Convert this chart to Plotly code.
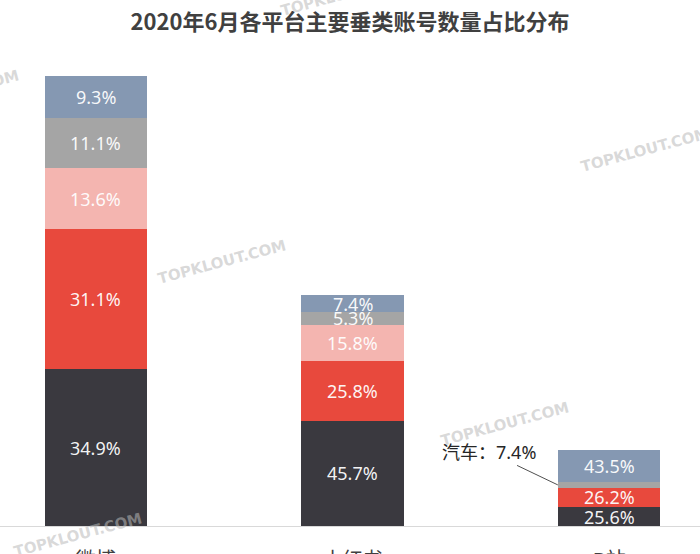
import plotly.graph_objects as go

# ── Data ──────────────────────────────────────────────────────────────────────
platforms = ["微博", "小红书", "B站"]
# relative total number of accounts (bar heights, 微博 = 100)
totals = [100, 51.3, 16.9]

# share of each vertical per platform (%), stacked bottom -> top
segments = ["垂类一", "垂类二", "垂类三", "汽车", "垂类五"]
shares = {
    "垂类一": [34.9, 45.7, 25.6],
    "垂类二": [31.1, 25.8, 26.2],
    "垂类三": [13.6, 15.8, 0],
    "汽车": [11.1, 5.3, 7.4],
    "垂类五": [9.3, 7.4, 43.5],
}
colors = ["#3a393f", "#e8493d", "#f4b5b0", "#a5a5a5", "#8598b2"]

title = "2020年6月各平台主要垂类账号数量占比分布"
callout_platform = "B站"
callout_segment = "汽车"
watermark = "TOPKLOUT.COM"

FONT = "Noto Sans, Noto Sans CJK SC, sans-serif"
BAR_W = 0.4
W, H = 700, 554
T, B = 60, 28  # plot area spans y = 60 .. 526

fig = go.Figure()

# heights: bar total split by the shares (normalised per bar)
sums = [sum(shares[s][i] for s in segments) for i in range(len(platforms))]
heights = {
    s: [totals[i] * shares[s][i] / sums[i] for i in range(len(platforms))]
    for s in segments
}

for seg, col in zip(segments, colors):
    fig.add_trace(go.Bar(
        x=platforms, y=heights[seg], name=seg,
        marker=dict(color=col, line=dict(width=0)),
        width=BAR_W, showlegend=False, hoverinfo="skip",
    ))

# ── Watermarks (behind labels) ────────────────────────────────────────────────
annotations = []
plot_h = H - T - B
for wx, wy in [(222, 262), (645, 150), (505, 424), (78, 535), (-45, 92), (345, -6)]:
    annotations.append(dict(
        x=wx / W, y=(H - B - wy) / plot_h, xref="paper", yref="paper",
        xanchor="center", yanchor="middle",
        text=f"<b>{watermark}</b>", showarrow=False, textangle=-15,
        font=dict(family="DejaVu Sans, sans-serif", size=15,
                  color="rgba(185,185,185,0.55)"),
    ))

# ── Segment labels ────────────────────────────────────────────────────────────
for i, p in enumerate(platforms):
    base = 0.0
    for seg in segments:
        h = heights[seg][i]
        mid = base + h / 2
        if h > 0 and not (p == callout_platform and seg == callout_segment):
            annotations.append(dict(
                x=p, y=mid, xref="x", yref="y",
                text=f"{shares[seg][i]:.1f}%", showarrow=False,
                font=dict(family=FONT, size=18, color="rgba(255,255,255,0.95)"),
            ))
        if p == callout_platform and seg == callout_segment:
            annotations.append(dict(
                x=i - BAR_W / 2, y=mid, xref="x", yref="y",
                text=f"{seg}：{shares[seg][i]:.1f}%",
                showarrow=True, arrowhead=0, arrowwidth=1, arrowcolor="#505050",
                ax=-69, ay=-33,
                font=dict(family=FONT, size=18, color="#262626"),
            ))
        base += h

# ── Layout ────────────────────────────────────────────────────────────────────
fig.update_layout(
    width=W, height=H,
    barmode="stack",
    plot_bgcolor="white", paper_bgcolor="white",
    margin=dict(l=0, r=0, t=T, b=B),
    title=dict(
        text=f"<b>{title}</b>", x=0.5, xanchor="center",
        y=1 - 22 / H, yanchor="middle",
        font=dict(family="Noto Sans CJK SC, sans-serif", size=22, color="#404040"),
    ),
    xaxis=dict(
        range=[-0.3735, 2.354], showgrid=False, zeroline=False,
        showline=True, linecolor="#d9d9d9", linewidth=1, ticks="",
        tickfont=dict(family=FONT, size=20, color="#404040"),
        ticklabelstandoff=16, automargin=False,
    ),
    yaxis=dict(range=[0, 103.6], visible=False, showgrid=False, zeroline=False),
    annotations=annotations,
)

fig.write_html(
    "out.html",
    config={"displayModeBar": False},
    post_script="document.body.style.margin='0';document.body.style.overflow='hidden';",
)
